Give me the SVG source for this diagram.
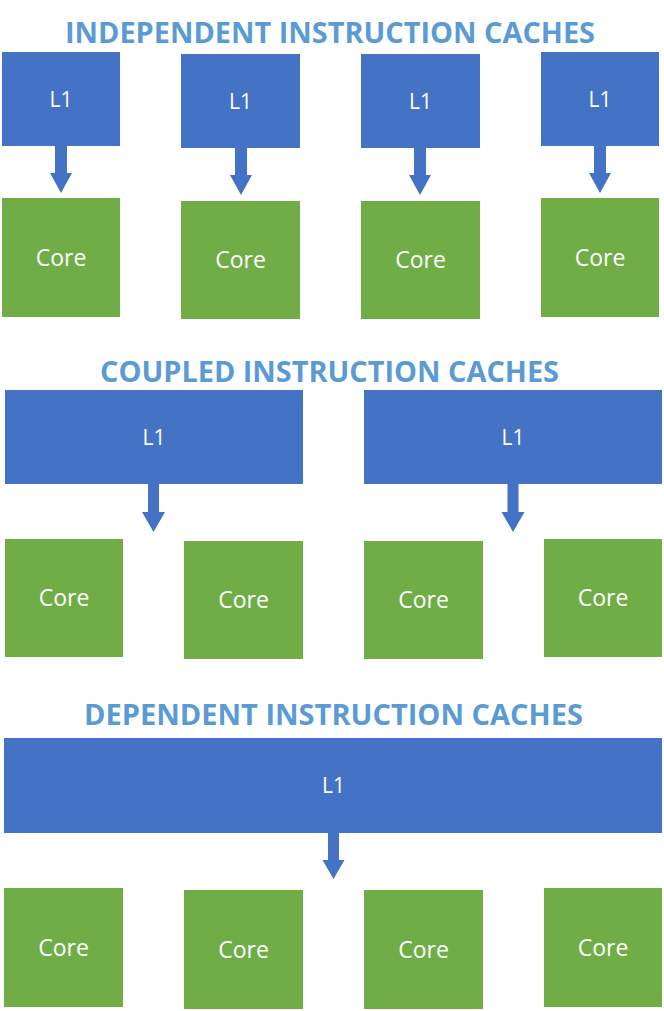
<svg xmlns="http://www.w3.org/2000/svg" width="664" height="1011" viewBox="0 0 664 1011">
<style>
.bg{fill:#ffffff}
.l1{fill:#4472C4}
.core{fill:#70AD47}
.arrow{fill:#4472C4}
.title{font-family:"Open Sans","Liberation Sans",sans-serif;font-weight:bold;font-size:29px;fill:#5B9BD5;text-anchor:middle}
.lt{font-family:"Open Sans","Liberation Sans",sans-serif;font-size:21px;fill:#ffffff;text-anchor:middle}
.ct{font-family:"Open Sans","Liberation Sans",sans-serif;font-size:23px;fill:#ffffff;text-anchor:middle}
</style>
<rect class="bg" x="0" y="0" width="664" height="1011"/>
<g id="titles">
<text class="title" x="330" y="43" textLength="530" lengthAdjust="spacingAndGlyphs">INDEPENDENT INSTRUCTION CACHES</text>
<text class="title" x="329.5" y="382" textLength="459" lengthAdjust="spacingAndGlyphs">COUPLED INSTRUCTION CACHES</text>
<text class="title" x="333.5" y="725" textLength="499" lengthAdjust="spacingAndGlyphs">DEPENDENT INSTRUCTION CACHES</text>
</g>
<g id="connectors">
<polygon class="arrow" points="55,145 67,145 67,173 72,173 61,193 50,173 55,173"/>
<polygon class="arrow" points="235,147 247,147 247,175 252,175 241,195 230,175 235,175"/>
<polygon class="arrow" points="414,147 426,147 426,175 431,175 420,195 409,175 414,175"/>
<polygon class="arrow" points="594,145 606,145 606,173 611,173 600,193 589,173 594,173"/>
<polygon class="arrow" points="148,483 159,483 159,512 165,512 153.5,532 142,512 148,512"/>
<polygon class="arrow" points="507.5,483 518.5,483 518.5,512 524.5,512 513,532 501.5,512 507.5,512"/>
<polygon class="arrow" points="328,832 339,832 339,860 344.5,860 333.5,879 322.5,860 328,860"/>
</g>
<g id="l1-a1"><rect class="l1" x="2" y="52" width="118" height="94"/><text class="lt" x="61" y="107">L1</text></g>
<g id="l1-a2"><rect class="l1" x="181" y="54" width="119" height="94"/><text class="lt" x="240.5" y="109">L1</text></g>
<g id="l1-a3"><rect class="l1" x="361" y="54" width="119" height="94"/><text class="lt" x="420.5" y="109">L1</text></g>
<g id="l1-a4"><rect class="l1" x="541" y="52" width="118" height="94"/><text class="lt" x="600" y="107">L1</text></g>
<g id="core-a1"><rect class="core" x="2" y="198" width="118" height="119"/><text class="ct" x="61" y="266">Core</text></g>
<g id="core-a2"><rect class="core" x="181" y="201" width="119" height="118"/><text class="ct" x="240.5" y="268">Core</text></g>
<g id="core-a3"><rect class="core" x="361" y="201" width="119" height="118"/><text class="ct" x="420.5" y="268">Core</text></g>
<g id="core-a4"><rect class="core" x="541" y="198" width="118" height="119"/><text class="ct" x="600" y="266">Core</text></g>
<g id="l1-b1"><rect class="l1" x="5" y="390" width="298" height="94"/><text class="lt" x="154" y="445">L1</text></g>
<g id="l1-b2"><rect class="l1" x="364" y="390" width="298" height="94"/><text class="lt" x="513" y="445">L1</text></g>
<g id="core-b1"><rect class="core" x="5" y="539" width="118" height="118"/><text class="ct" x="64" y="606">Core</text></g>
<g id="core-b2"><rect class="core" x="184" y="541" width="119" height="118"/><text class="ct" x="243.5" y="608">Core</text></g>
<g id="core-b3"><rect class="core" x="364" y="541" width="119" height="118"/><text class="ct" x="423.5" y="608">Core</text></g>
<g id="core-b4"><rect class="core" x="544" y="539" width="118" height="118"/><text class="ct" x="603" y="606">Core</text></g>
<g id="l1-c1"><rect class="l1" x="4" y="738" width="658" height="95"/><text class="lt" x="333.5" y="793">L1</text></g>
<g id="core-c1"><rect class="core" x="4" y="888" width="119" height="119"/><text class="ct" x="63.5" y="956">Core</text></g>
<g id="core-c2"><rect class="core" x="184" y="890" width="119" height="119"/><text class="ct" x="243.5" y="958">Core</text></g>
<g id="core-c3"><rect class="core" x="364" y="890" width="119" height="119"/><text class="ct" x="423.5" y="958">Core</text></g>
<g id="core-c4"><rect class="core" x="544" y="888" width="118" height="119"/><text class="ct" x="603" y="956">Core</text></g>
</svg>
